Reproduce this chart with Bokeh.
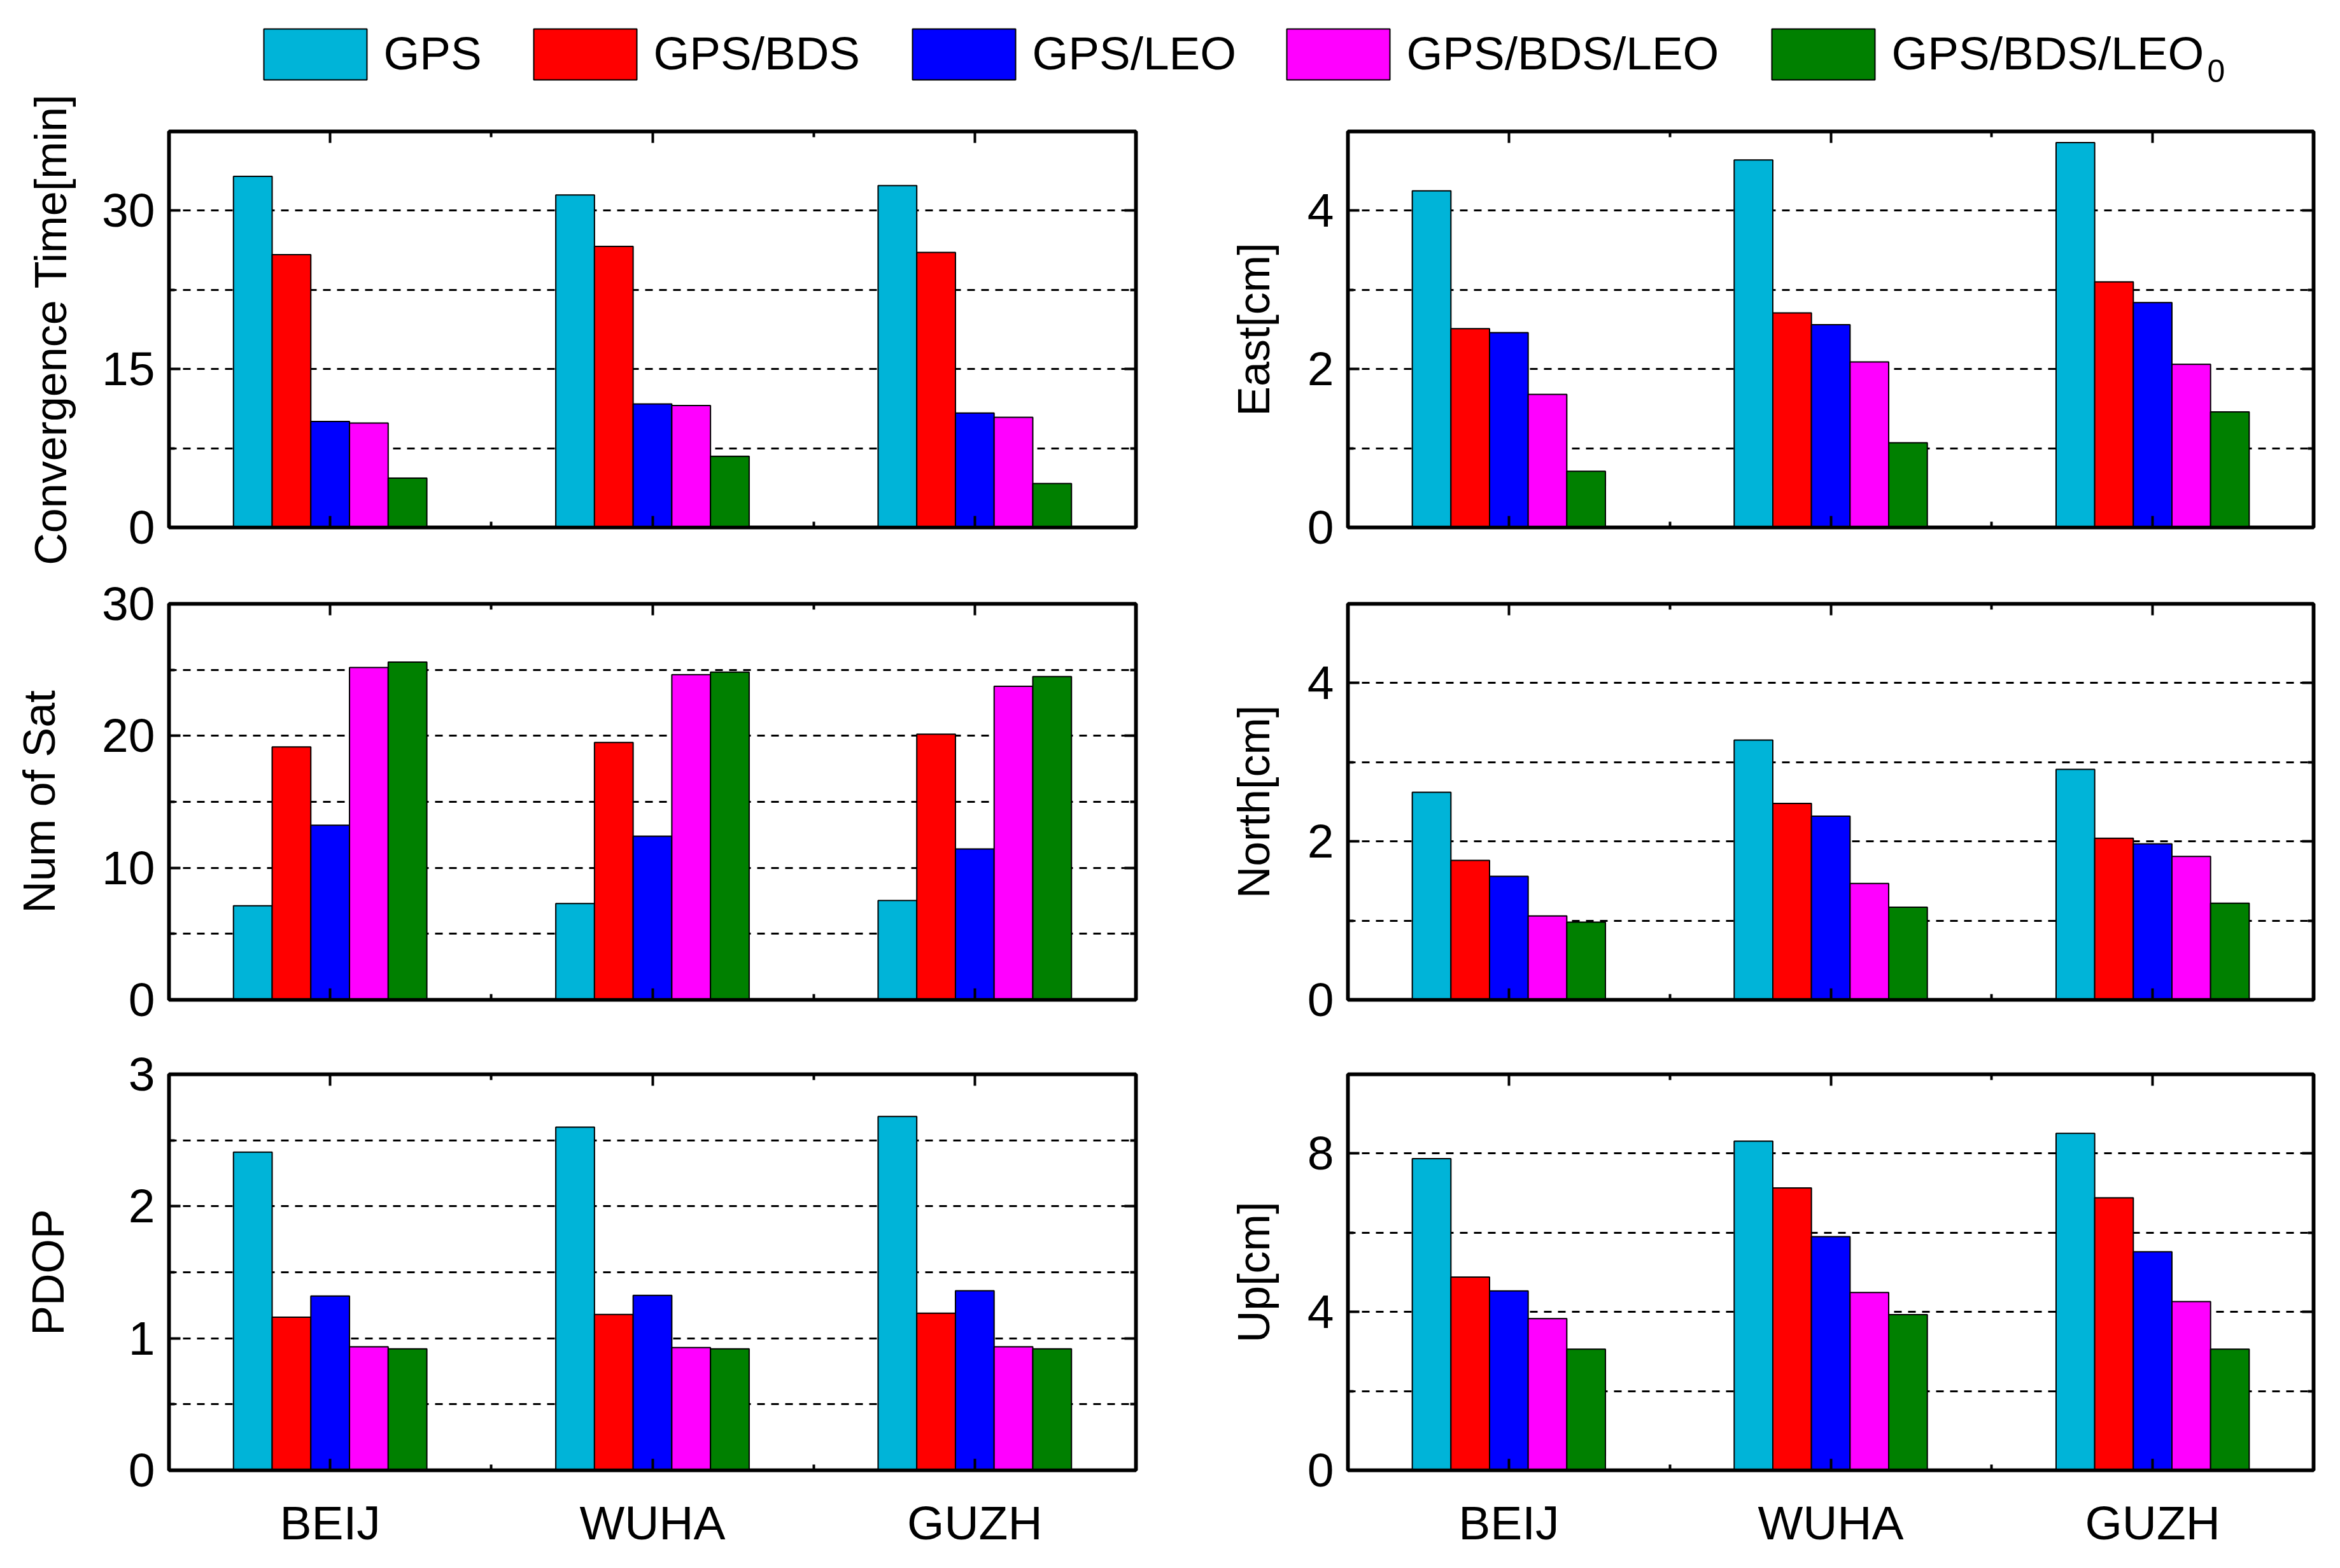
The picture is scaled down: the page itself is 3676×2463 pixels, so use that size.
from bokeh.plotting import figure
from bokeh.layouts import column, row
from bokeh.models import Range1d, FixedTicker, LinearAxis, ColumnDataSource, Grid
from bokeh.transform import dodge
from bokeh.core.properties import value
from bokeh.embed import file_html
from bokeh.resources import INLINE

# ---------------- data ----------------
stations = ["BEIJ", "WUHA", "GUZH"]
series = ["GPS", "GPS/BDS", "GPS/LEO", "GPS/BDS/LEO", "GPS/BDS/LEO"]
series_sub = ["", "", "", "", "0"]
colors = ["#00B4D8", "#FF0000", "#0000FF", "#FF00FF", "#008000"]

conv_gps = [33.25, 31.49, 32.38]
conv_bds = [25.84, 26.62, 26.04]
conv_leo = [10.04, 11.70, 10.84]
conv_bdsleo = [9.89, 11.55, 10.43]
conv_leo0 = [4.67, 6.73, 4.16]

east_gps = [4.25, 4.64, 4.86]
east_bds = [2.51, 2.71, 3.10]
east_leo = [2.46, 2.56, 2.84]
east_bdsleo = [1.68, 2.09, 2.06]
east_leo0 = [0.71, 1.07, 1.46]

nsat_gps = [7.13, 7.29, 7.53]
nsat_bds = [19.16, 19.50, 20.12]
nsat_leo = [13.23, 12.39, 11.43]
nsat_bdsleo = [25.18, 24.63, 23.76]
nsat_leo0 = [25.59, 24.83, 24.49]

north_gps = [2.62, 3.28, 2.91]
north_bds = [1.76, 2.48, 2.04]
north_leo = [1.56, 2.32, 1.97]
north_bdsleo = [1.06, 1.47, 1.81]
north_leo0 = [0.98, 1.17, 1.22]

pdop_gps = [2.41, 2.60, 2.68]
pdop_bds = [1.16, 1.18, 1.19]
pdop_leo = [1.32, 1.325, 1.36]
pdop_bdsleo = [0.936, 0.93, 0.936]
pdop_leo0 = [0.92, 0.92, 0.92]

up_gps = [7.87, 8.31, 8.51]
up_bds = [4.88, 7.13, 6.88]
up_leo = [4.53, 5.90, 5.52]
up_bdsleo = [3.83, 4.49, 4.26]
up_leo0 = [3.06, 3.93, 3.06]

# axis settings: (label, ymax, major ticks, minor ticks)
conv_axis = ("Convergence Time[min]", 37.5, [0, 15, 30], [7.5, 22.5])
east_axis = ("East[cm]", 5, [0, 2, 4], [1, 3])
nsat_axis = ("Num of Sat", 30, [0, 10, 20, 30], [5, 15, 25])
north_axis = ("North[cm]", 5, [0, 2, 4], [1, 3])
pdop_axis = ("PDOP", 3, [0, 1, 2, 3], [0.5, 1.5, 2.5])
up_axis = ("Up[cm]", 10, [0, 4, 8], [2, 6])

# ---------------- style ----------------
FONT = "Liberation Sans"
BAR_W = 0.12
FRAME_H = 622
FW = [1519, 1517]
ML = [265, 313]
MT = [66, 45, 60]
MB = [75, 57, 140]
LEG_H = 140


def style_axis(ax):
    ax.axis_line_width = 5.5
    ax.axis_line_color = "black"
    ax.major_tick_in = 18
    ax.major_tick_out = 0
    ax.minor_tick_in = 9
    ax.minor_tick_out = 0
    ax.major_tick_line_width = 4
    ax.minor_tick_line_width = 4
    ax.major_label_text_font = FONT
    ax.major_label_text_font_size = "75px"
    ax.major_label_text_color = "black"
    ax.axis_label_text_font = FONT
    ax.axis_label_text_font_size = "70px"
    ax.axis_label_text_font_style = "normal"
    ax.axis_label_text_color = "black"


def make_panel(axis_spec, vals, col, r, label_standoff):
    ylabel, ymax, major, minor = axis_spec
    p = figure(frame_width=FW[col], frame_height=FRAME_H,
               x_range=Range1d(0.5, len(stations) + 0.5), y_range=Range1d(0, ymax),
               output_backend="svg", toolbar_location=None,
               x_axis_type=None, y_axis_type=None,
               min_border_left=ML[col], min_border_right=20,
               min_border_top=MT[r], min_border_bottom=MB[r])
    p.outline_line_color = "black"
    p.outline_line_width = 5.5
    p.background_fill_color = "white"
    p.border_fill_color = "white"

    pos = list(range(1, len(stations) + 1))
    data = dict(pos=pos)
    for i, v in enumerate(vals):
        data[f"s{i}"] = v
    src = ColumnDataSource(data)
    n = len(vals)
    for i in range(n):
        off = (i - (n - 1) / 2) * BAR_W
        p.vbar(x=dodge("pos", off), top=f"s{i}", bottom=0, width=BAR_W, source=src,
               fill_color=colors[i], line_color="black", line_width=2)

    grid_vals = sorted([t for t in major + minor if 0 < t < ymax])
    p.add_layout(Grid(dimension=1, ticker=FixedTicker(ticks=grid_vals),
                      grid_line_color="black", grid_line_width=3, grid_line_dash="12 10"))

    xt = FixedTicker(ticks=pos, minor_ticks=[x + 0.5 for x in pos[:-1]])
    yt = FixedTicker(ticks=major, minor_ticks=minor)

    blank_x = {k: "" for k in pos}
    if r == 2:
        bottom = LinearAxis(ticker=xt, major_label_overrides={k: s for k, s in zip(pos, stations)})
        bottom.major_label_standoff = 40
    else:
        bottom = LinearAxis(ticker=xt, major_label_overrides=blank_x)
        bottom.major_label_standoff = 0
    style_axis(bottom)
    if r != 2:
        bottom.major_label_text_font_size = "1px"
    p.add_layout(bottom, "below")

    top = LinearAxis(ticker=xt, major_label_overrides=blank_x)
    style_axis(top)
    top.major_label_standoff = 0
    top.major_label_text_font_size = "1px"
    p.add_layout(top, "above")

    left = LinearAxis(ticker=yt, axis_label=ylabel)
    style_axis(left)
    left.major_label_standoff = 22
    left.axis_label_standoff = label_standoff
    p.add_layout(left, "left")

    right = LinearAxis(ticker=yt, major_label_overrides={k: "" for k in major})
    style_axis(right)
    right.major_label_standoff = 0
    right.major_label_text_font_size = "1px"
    p.add_layout(right, "right")
    return p


p00 = make_panel(conv_axis, [conv_gps, conv_bds, conv_leo, conv_bdsleo, conv_leo0], 0, 0, 38)
p01 = make_panel(east_axis, [east_gps, east_bds, east_leo, east_bdsleo, east_leo0], 1, 0, 42)
p10 = make_panel(nsat_axis, [nsat_gps, nsat_bds, nsat_leo, nsat_bdsleo, nsat_leo0], 0, 1, 56)
p11 = make_panel(north_axis, [north_gps, north_bds, north_leo, north_bdsleo, north_leo0], 1, 1, 42)
p20 = make_panel(pdop_axis, [pdop_gps, pdop_bds, pdop_leo, pdop_bdsleo, pdop_leo0], 0, 2, 84)
p21 = make_panel(up_axis, [up_gps, up_bds, up_leo, up_bdsleo, up_leo0], 1, 2, 42)

# ---------------- legend ----------------
TOTAL_W = ML[0] + FW[0] + 20 + ML[1] + FW[1] + 20
leg = figure(width=TOTAL_W, height=LEG_H, x_range=Range1d(0, TOTAL_W), y_range=Range1d(LEG_H, 0),
             output_backend="svg", toolbar_location=None, x_axis_type=None, y_axis_type=None,
             min_border=0)
leg.outline_line_color = None
leg.xgrid.visible = False
leg.ygrid.visible = False
patch_x = [414, 838, 1433, 2021, 2783]
PW, PH = 162, 80
leg_src = ColumnDataSource(dict(
    left=patch_x, right=[x + PW for x in patch_x], top=[45] * 5, bottom=[45 + PH] * 5,
    color=colors, tx=[x + 188 for x in patch_x], ty=[83] * 5, label=series))
leg.quad(left="left", right="right", top="top", bottom="bottom", fill_color="color",
         line_color="black", line_width=2, source=leg_src)
leg.text(x="tx", y="ty", text="label", source=leg_src, text_font=value(FONT),
         text_font_size="73px", text_baseline="middle", text_align="left", text_color="black")
sub_src = ColumnDataSource(dict(x=[patch_x[4] + 188 + 496], y=[111], t=[series_sub[4]]))
leg.text(x="x", y="y", text="t", source=sub_src, text_font=value(FONT), text_font_size="50px",
         text_baseline="middle", text_align="left", text_color="black")

layout = column(leg, row(p00, p01), row(p10, p11), row(p20, p21))
open("out.html", "w").write(file_html(layout, INLINE))
